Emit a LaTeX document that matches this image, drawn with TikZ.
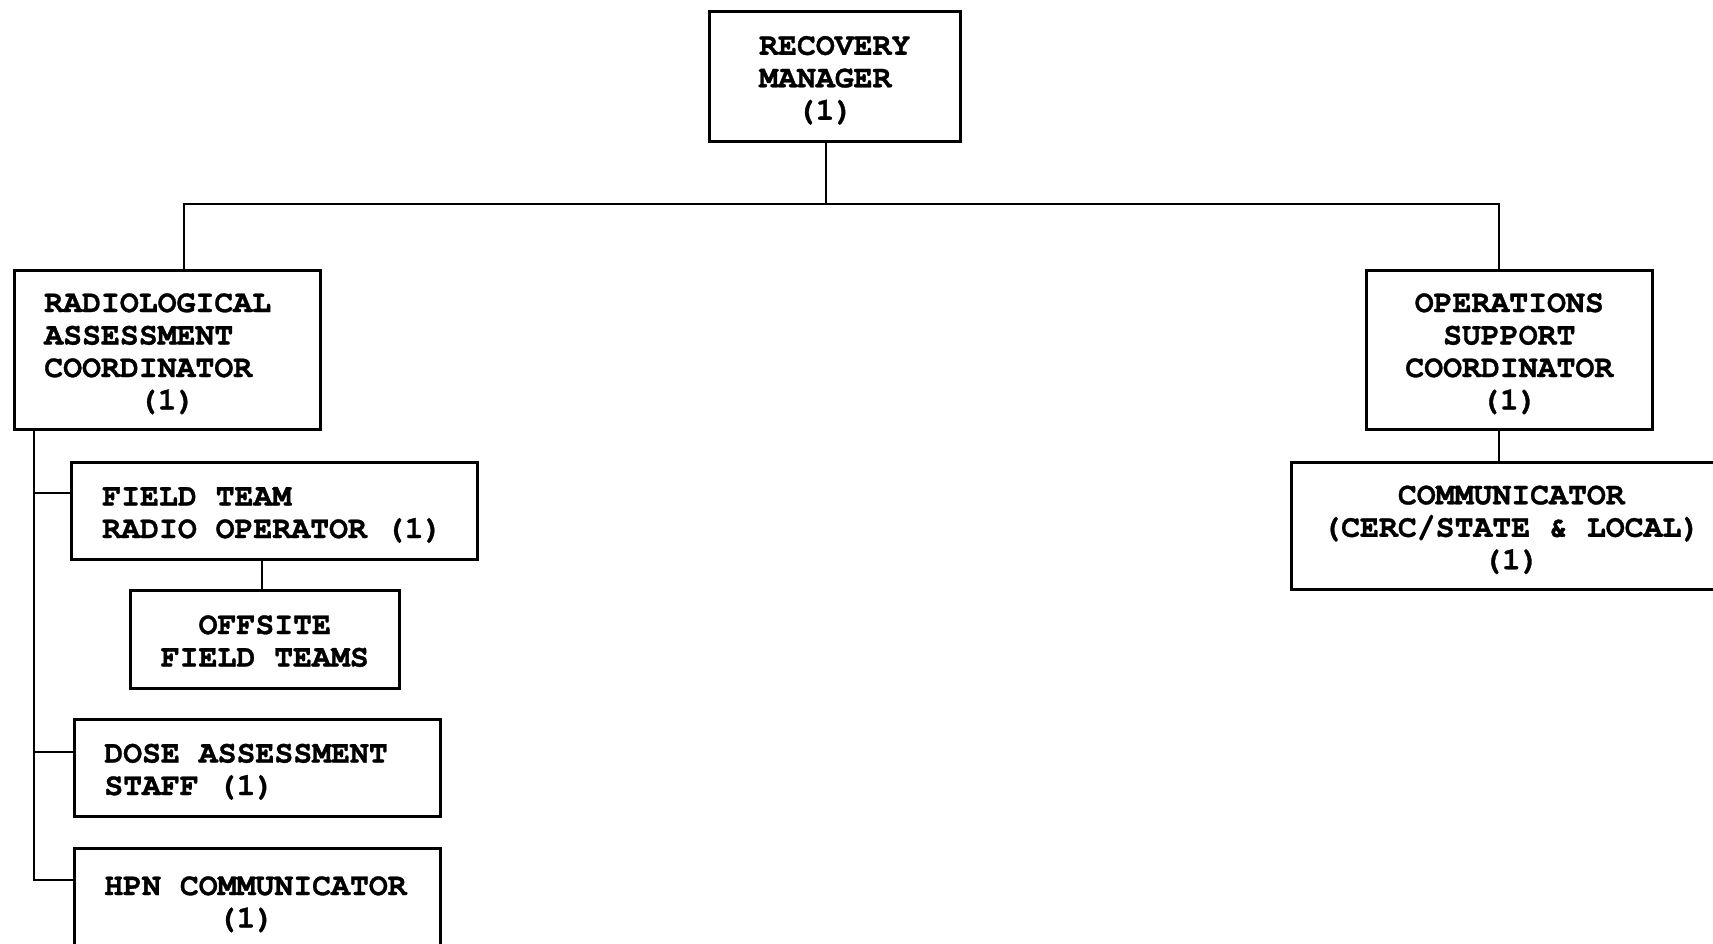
\documentclass[tikz,border=0pt]{standalone}
\usepackage{fontspec}
\setmonofont{texgyrecursor}[Extension=.otf, UprightFont=*-regular, BoldFont=*-bold, BoldFeatures={FakeBold=1}]
\newcommand{\topstr}{\spaceskip=18.9pt\relax\xspaceskip=18.9pt\relax\rule{0pt}{30pt}}
\newcommand{\botstr}{\rule[-8pt]{0pt}{8pt}}
\newcommand{\boxfont}{\ttfamily\bfseries\fontsize{31.5}{32.5}\selectfont
  \fontdimen2\font=18.9pt\relax\fontdimen3\font=0pt\relax\fontdimen4\font=0pt\relax}
\begin{document}
\begin{tikzpicture}[x=1pt,y=-1pt,
  box/.style={draw, line width=2.6pt, anchor=north west, inner ysep=0pt, font=\boxfont},
  cbox/.style={box, align=center, inner xsep=0pt},
  lbox/.style={box, align=left},
  conn/.style={line width=2.2pt}]
\useasboundingbox (0,0) rectangle (1713,944);
\clip (0,0) rectangle (1713,944);
\fill[white] (0,0) rectangle (1713,944);

\node[box, align=left, inner xsep=0pt, minimum width=251pt, minimum height=130pt] (rm) at (708,10)
  {\topstr RECOVERY\\MANAGER\\\hspace*{37.5pt}(1)\botstr};
\node[lbox, minimum width=306pt, minimum height=159pt, text width=246pt, inner xsep=30pt] (rac) at (13,269)
  {\topstr RADIOLOGICAL\\ASSESSMENT\\COORDINATOR\\\phantom{RADIO}(1)\botstr};
\node[cbox, minimum width=286pt, minimum height=159pt] (osc) at (1365,269)
  {\topstr OPERATIONS\\SUPPORT\\COORDINATOR\\(1)\botstr};
\node[cbox, minimum width=440pt, minimum height=127pt] (comm) at (1290,461)
  {\topstr COMMUNICATOR\\(CERC/STATE \& LOCAL)\\(1)\botstr};
\node[lbox, minimum width=406pt, minimum height=97pt, text width=344pt, inner xsep=31pt] (ftro) at (70,461)
  {\topstr FIELD TEAM\\RADIO OPERATOR (1)\botstr};
\node[cbox, minimum width=269pt, minimum height=98pt] (ofs) at (129,589)
  {\topstr OFFSITE\\FIELD TEAMS\botstr};
\node[lbox, minimum width=366pt, minimum height=97pt, text width=306pt, inner xsep=30pt] (dose) at (73,718)
  {\topstr DOSE ASSESSMENT\\STAFF (1)\botstr};
\node[lbox, minimum width=366pt, minimum height=104pt, text width=306pt, inner xsep=30pt] (hpn) at (73,847)
  {\topstr HPN COMMUNICATOR\\\phantom{HPN CO}(1)\botstr};

\coordinate (bus) at (826,204);
\coordinate (racT) at (184,269);
\coordinate (oscT) at (1499,269);
\coordinate (sp) at (34,428);
\coordinate (ftroB) at (70,493);
\coordinate (doseB) at (73,752);
\coordinate (hpnB) at (73,880);
\coordinate (ofsX) at (262,558);

\draw[conn] (rm.south -| bus) -- (bus);
\draw[conn] (racT) |- (bus) -| (oscT);
\draw[conn] (osc.south -| oscT) -- (comm.north -| oscT);
\draw[conn] (sp) |- (hpnB);
\draw[conn] (sp |- ftroB) -- (ftroB);
\draw[conn] (sp |- doseB) -- (doseB);
\draw[conn] (ofsX) -- (ofs.north -| ofsX);
\end{tikzpicture}
\end{document}
